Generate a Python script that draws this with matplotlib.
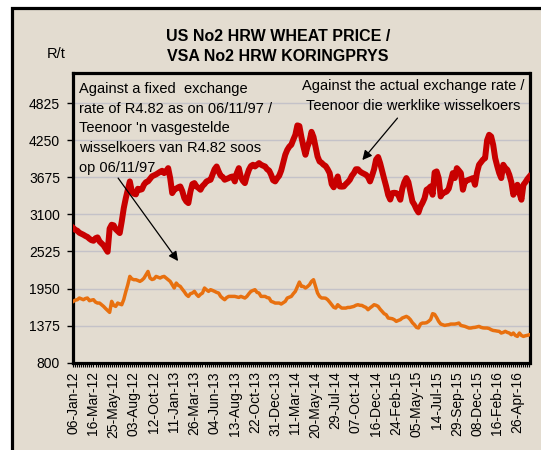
import numpy as np
import matplotlib
matplotlib.use("Agg")
import matplotlib.pyplot as plt
from matplotlib.patches import Rectangle
from matplotlib.ticker import MultipleLocator

plt.rcParams['font.family'] = ['Liberation Sans Narrow', 'Liberation Sans', 'DejaVu Sans']

# weekly prices (R/t), one value per category on the x axis
actual_rate = [
    2888, 2860, 2846, 2815, 2800, 2784, 2765, 2750, 2722, 2700,
    2691, 2730, 2743, 2681, 2650, 2620, 2570, 2520, 2880, 2939,
    2930, 2870, 2840, 2810, 2991, 3197, 3350, 3480, 3611, 3456,
    3420, 3410, 3497, 3480, 3490, 3560, 3600, 3611, 3650, 3690,
    3705, 3720, 3740, 3760, 3776, 3740, 3770, 3817, 3663, 3430,
    3482, 3500, 3520, 3533, 3460, 3352, 3301, 3275, 3450, 3570,
    3585, 3533, 3510, 3482, 3540, 3570, 3611, 3625, 3637, 3720,
    3800, 3843, 3766, 3700, 3680, 3637, 3650, 3663, 3680, 3688,
    3611, 3740, 3817, 3680, 3620, 3585, 3700, 3792, 3850, 3869,
    3843, 3870, 3895, 3870, 3855, 3843, 3800, 3780, 3714, 3630,
    3611, 3660, 3700, 3780, 3900, 4024, 4100, 4150, 4179, 4260,
    4334, 4480, 4470, 4300, 4150, 4024, 4150, 4231, 4380, 4300,
    4150, 3998, 3921, 3900, 3869, 3850, 3800, 3740, 3570, 3520,
    3600, 3688, 3533, 3530, 3533, 3570, 3600, 3637, 3700, 3740,
    3800, 3800, 3766, 3745, 3730, 3714, 3680, 3611, 3700, 3800,
    3950, 3990, 3895, 3770, 3650, 3533, 3400, 3330, 3430, 3435,
    3430, 3400, 3327, 3500, 3600, 3663, 3600, 3450, 3300, 3249,
    3180, 3130, 3223, 3280, 3350, 3482, 3500, 3533, 3404, 3750,
    3766, 3663, 3378, 3430, 3440, 3456, 3500, 3620, 3740, 3663,
    3817, 3780, 3740, 3482, 3611, 3625, 3637, 3650, 3663, 3559,
    3750, 3869, 3910, 3950, 3972, 4250, 4334, 4308, 4179, 3972,
    3850, 3740, 3663, 3869, 3820, 3792, 3714, 3600, 3404, 3480,
    3559, 3430, 3327, 3559, 3600, 3650, 3688,
]

fixed_rate = [
    1751, 1770, 1777, 1803, 1790, 1777, 1795, 1803, 1761, 1770,
    1777, 1740, 1725, 1725, 1700, 1673, 1640, 1610, 1580, 1751,
    1690, 1673, 1725, 1710, 1699, 1780, 1900, 2009, 2138, 2100,
    2087, 2087, 2075, 2061, 2080, 2110, 2164, 2215, 2113, 2090,
    2100, 2138, 2125, 2113, 2130, 2138, 2113, 2090, 2061, 2009,
    1958, 2035, 2000, 1983, 1940, 1900, 1854, 1828, 1870, 1880,
    1906, 1860, 1828, 1860, 1880, 1958, 1930, 1906, 1932, 1920,
    1906, 1890, 1880, 1828, 1800, 1777, 1810, 1828, 1828, 1828,
    1828, 1820, 1812, 1828, 1815, 1803, 1828, 1870, 1906, 1920,
    1932, 1890, 1880, 1828, 1828, 1828, 1810, 1803, 1751, 1740,
    1725, 1725, 1725, 1710, 1730, 1751, 1803, 1815, 1828, 1870,
    1906, 1980, 2050, 1983, 1983, 1958, 1980, 2009, 2060, 2087,
    1983, 1880, 1828, 1803, 1803, 1800, 1777, 1740, 1699, 1660,
    1647, 1699, 1670, 1647, 1647, 1647, 1657, 1657, 1665, 1673,
    1690, 1699, 1690, 1688, 1670, 1657, 1622, 1650, 1673, 1699,
    1690, 1673, 1630, 1596, 1560, 1544, 1493, 1488, 1482, 1467,
    1441, 1455, 1467, 1493, 1505, 1518, 1500, 1467, 1420, 1389,
    1348, 1338, 1400, 1415, 1415, 1420, 1441, 1470, 1560, 1550,
    1500, 1441, 1400, 1389, 1378, 1385, 1389, 1399, 1399, 1399,
    1405, 1415, 1378, 1370, 1363, 1350, 1338, 1338, 1345, 1348,
    1355, 1363, 1348, 1340, 1338, 1338, 1330, 1312, 1300, 1296,
    1290, 1286, 1260, 1270, 1286, 1270, 1260, 1234, 1260, 1223,
    1208, 1260, 1223, 1208, 1218, 1225, 1234,
]

# every 10th category is labelled
date_labels = [
    "06-Jan-12", "16-Mar-12", "25-May-12", "03-Aug-12", "12-Oct-12",
    "11-Jan-13", "26-Mar-13", "04-Jun-13", "13-Aug-13", "22-Oct-13",
    "31-Dec-13", "11-Mar-14", "20-May-14", "29-Jul-14", "07-Oct-14",
    "16-Dec-14", "24-Feb-15", "05-May-15", "14-Jul-15", "29-Sep-15",
    "08-Dec-15", "16-Feb-16", "26-Apr-16",
]

y_ticks = [800, 1375, 1950, 2525, 3100, 3675, 4250, 4825]

BG = "#e3dcd0"

fig = plt.figure(figsize=(5.41, 4.5), dpi=100)
fig.patch.set_facecolor("white")

# outer frame (only top and left edges fall inside the picture)
fig.patches.append(Rectangle((12 / 541, -0.1), 1.2, 1 - 8 / 450 + 0.1,
                             transform=fig.transFigure, facecolor=BG,
                             edgecolor="black", lw=2.3, zorder=-5))

ax = fig.add_axes([73.3 / 541, 1 - 362.7 / 450, (529.5 - 73.3) / 541, (362.7 - 72.5) / 450])
ax.set_facecolor("none")
ax.set_zorder(2)

x = np.arange(len(actual_rate))
ax.plot(x, actual_rate, color="#c80000", lw=4.3, solid_joinstyle="round", zorder=3)
ax.plot(x, fixed_rate, color="#e8700f", lw=2.5, solid_joinstyle="round", zorder=3)

ax.set_xlim(0, len(actual_rate) - 1)
ax.set_ylim(800, 5300)
ax.set_yticks(y_ticks)
ax.set_yticklabels([str(v) for v in y_ticks], fontsize=10)
ax.set_xticks(np.arange(len(date_labels)) * 10)
ax.set_xticklabels(date_labels, rotation=90, fontsize=10)
ax.xaxis.set_minor_locator(MultipleLocator(1))

ax.grid(axis="y", color="#c4c2c8", lw=1.0, zorder=1)
for s in ax.spines.values():
    s.set_linewidth(2.3)
    s.set_color("black")
ax.tick_params(axis="y", direction="out", length=4.5, width=1, pad=5)
ax.tick_params(axis="x", which="both", direction="out", length=3, width=0.8, pad=3)

fig.text(278 / 541, 1 - 46.5 / 450, "US No2 HRW WHEAT PRICE /\nVSA No2 HRW KORINGPRYS",
         ha="center", va="center", fontsize=11.5, fontweight="bold", linespacing=1.45)
fig.text(56 / 541, 1 - 54 / 450, "R/t", ha="center", va="center", fontsize=10.5)

ax.text(0.012, 0.968,
        "Against a fixed  exchange\nrate of R4.82 as on 06/11/97 /\nTeenoor 'n vasgestelde\n"
        "wisselkoers van R4.82 soos\nop 06/11/97",
        transform=ax.transAxes, ha="left", va="top", fontsize=10.5, linespacing=1.52, zorder=4)
ax.text(0.745, 0.978, "Against the actual exchange rate /\nTeenoor die werklike wisselkoers",
        transform=ax.transAxes, ha="center", va="top", fontsize=10.5, linespacing=1.52, zorder=4)

arrow = dict(arrowstyle="-|>", color="black", lw=0.9, mutation_scale=14, shrinkA=0, shrinkB=0)
ax.annotate("", xy=(51.9, 2376), xytext=(22.2, 3663), arrowprops=arrow, zorder=4)
ax.annotate("", xy=(143.2, 3942), xytext=(160.6, 4593), arrowprops=arrow, zorder=4)

fig.savefig("out.png", dpi=100, facecolor=fig.get_facecolor())
